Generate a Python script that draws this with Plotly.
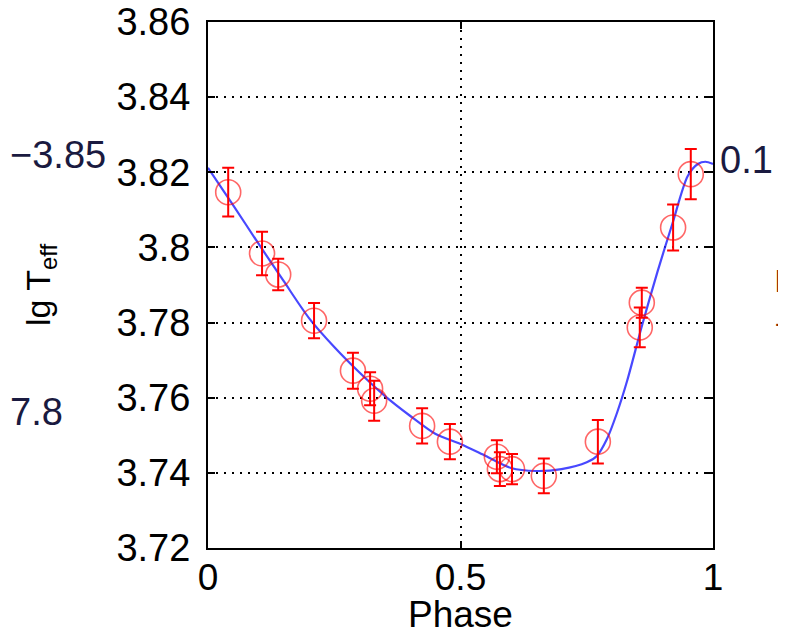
import plotly.graph_objects as go

# Observed points
phase = [0.040, 0.107, 0.139, 0.210, 0.287, 0.321, 0.329, 0.424, 0.479,
         0.572, 0.578, 0.602, 0.665, 0.772, 0.855, 0.859, 0.921, 0.956]
lg_teff = [3.8147, 3.7984, 3.7928, 3.7805, 3.7672, 3.7624, 3.7592, 3.7525, 3.7483,
           3.7443, 3.7410, 3.7410, 3.7392, 3.7483, 3.7787, 3.7853, 3.8053, 3.8195]
lg_teff_err = [0.0065, 0.0058, 0.0042, 0.0047, 0.0048, 0.0044, 0.0053, 0.0047, 0.0047,
               0.0044, 0.0045, 0.0040, 0.0046, 0.0058, 0.0053, 0.0040, 0.0061, 0.0067]

# Fitted curve
fit_phase = [0.0, 0.05, 0.10, 0.15, 0.20, 0.25, 0.30, 0.35, 0.40, 0.45, 0.50, 0.55,
             0.60, 0.65, 0.70, 0.75, 0.77, 0.79, 0.81, 0.83, 0.86, 0.89, 0.92, 0.95,
             0.97, 0.985, 1.0]
fit_lg_teff = [3.8212, 3.8112, 3.8010, 3.7910, 3.7812, 3.7735, 3.7667, 3.7605, 3.7552,
               3.7504, 3.7477, 3.7445, 3.7413, 3.7405, 3.7410, 3.7428, 3.7445, 3.7490,
               3.7560, 3.7645, 3.7795, 3.7935, 3.8065, 3.8190, 3.8222, 3.8228, 3.8222]

y_ticks = [3.72, 3.74, 3.76, 3.78, 3.80, 3.82, 3.84, 3.86]
y_tick_labels = ["3.72", "3.74", "3.76", "3.78", "3.8", "3.82", "3.84", "3.86"]
x_ticks = [0, 0.5, 1]
x_tick_labels = ["0", "0.5", "1"]

FONT = "Liberation Sans, Arial, sans-serif"

fig = go.Figure()
fig.add_trace(go.Scatter(
    x=fit_phase, y=fit_lg_teff, mode="lines",
    line=dict(color="rgba(40,40,255,0.85)", width=2.2, shape="spline", smoothing=0.8),
    showlegend=False, hoverinfo="skip"))
fig.add_trace(go.Scatter(
    x=phase, y=lg_teff, mode="markers",
    marker=dict(symbol="circle-open", size=25, color="rgba(255,0,0,0.6)",
                line=dict(width=1.6, color="rgba(255,0,0,0.6)")),
    error_y=dict(type="data", array=lg_teff_err, visible=True, color="red",
                 thickness=2, width=6),
    showlegend=False))

grid_dash = "2px,6px"
fig.update_xaxes(
    range=[0, 1], tickvals=x_ticks, ticktext=x_tick_labels, automargin=False,
    showline=True, linecolor="black", linewidth=2, mirror="ticks",
    ticks="inside", ticklen=7, tickcolor="black", tickwidth=1.5,
    showgrid=True, gridcolor="black", gridwidth=1.5, griddash=grid_dash,
    zeroline=False, ticklabeloverflow="allow", ticklabelstandoff=-4,
    tickfont=dict(family=FONT, size=37, color="black"),
    title=dict(text="Phase", font=dict(family=FONT, size=37, color="black"), standoff=18),
)
fig.update_yaxes(
    range=[3.72, 3.86], tickvals=y_ticks, ticktext=y_tick_labels, automargin=False,
    showline=True, linecolor="black", linewidth=2, mirror="ticks",
    ticks="inside", ticklen=7, tickcolor="black", tickwidth=1.5,
    showgrid=True, gridcolor="black", gridwidth=1.5, griddash=grid_dash,
    zeroline=False, ticklabelstandoff=8, ticklabeloverflow="allow",
    tickfont=dict(family=FONT, size=38, color="black"),
    title=dict(text="lg T<sub>eff</sub>", font=dict(family=FONT, size=34, color="black"), standoff=56),
)

# The page has an 8px body margin, so the figure is drawn from (8, 8).
OFF = 8
W, H = 786 - OFF, 635 - OFF
L, R, T, B = 208 - OFF, 73, 22 - OFF, 87
pw, ph = W - L - R, H - T - B


def px2paper(xp, yp):
    # page pixel -> paper coordinates
    return (xp - OFF - L) / pw, (H - B - (yp - OFF)) / ph


# Fragments of neighbouring panels visible at the edges
for txt, xp, yp, size, col in [
        ("\u22123.85", 8, 155, 38, "#1a1a40"),
        ("7.8", 8, 412, 38, "#1a1a40"),
        ("0.1", 718, 160, 38, "#1a1a40"),
        ("l", 773, 281, 30, "#8b2a00"),
        ("-", 773, 322, 28, "#8b2a00"),
]:
    xx, yy = px2paper(xp, yp)
    fig.add_annotation(x=xx, y=yy, text=txt, xanchor="left", yanchor="middle",
                       showarrow=False, xref="paper", yref="paper",
                       font=dict(family=FONT, size=size, color=col))

fig.update_layout(
    width=W, height=H,
    margin=dict(l=L, r=R, t=T, b=B),
    paper_bgcolor="white", plot_bgcolor="white",
)
fig.write_html("out.html")
